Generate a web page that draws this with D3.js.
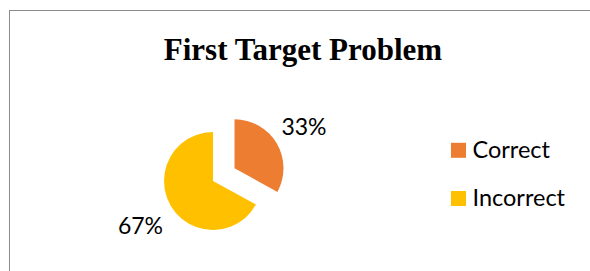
<!DOCTYPE html>
<html><head><meta charset="utf-8">
<script src="https://cdn.jsdelivr.net/npm/d3@7"></script>
<style>html,body{margin:0;padding:0;background:#fff;}svg{display:block;}</style>
</head><body>
<svg id="c" width="590" height="271"></svg>
<script>
const categories = ["Correct", "Incorrect"];
const values = [33, 67];
const labels = ["33%", "67%"];
const colors = ["#ED7D31", "#FFC000"];
const title = "First Target Problem";

const svg = d3.select("#c");
svg.append("rect").attr("x", 9.5).attr("y", 10.5).attr("width", 600).attr("height", 300)
  .attr("fill", "#fff").attr("stroke", "#8c8c8c").attr("stroke-width", 1);

svg.append("text").attr("x", 303).attr("y", 59.5).attr("text-anchor", "middle")
  .attr("font-family", "Liberation Serif, Times New Roman, serif").attr("font-weight", "bold")
  .attr("font-size", 31).attr("fill", "#000").text(title);

const cx = 213, cy = 181, r = 49, explode = [25, 0];
const pie = d3.pie().sort(null).value(d => d)(values);
const arc = d3.arc().innerRadius(0).outerRadius(r);
const g = svg.append("g").attr("transform", `translate(${cx},${cy})`);
pie.forEach((p, i) => {
  const mid = (p.startAngle + p.endAngle) / 2;
  const dx = Math.sin(mid) * explode[i], dy = -Math.cos(mid) * explode[i];
  g.append("path").attr("d", arc(p)).attr("fill", colors[i])
    .attr("transform", `translate(${dx},${dy})`);
});

const font = "Lato, Carlito, Calibri, sans-serif";
// data labels
const labelPos = [[304, 135], [140.5, 234.3]];
labels.forEach((t, i) => {
  svg.append("text").attr("x", labelPos[i][0]).attr("y", labelPos[i][1]).attr("text-anchor", "middle")
    .attr("font-family", font).attr("font-size", 23).attr("fill", "#000").text(t);
});

// legend
const leg = svg.append("g");
const ly = d3.scalePoint().domain(categories).range([150.3, 198.5]);
categories.forEach((c, i) => {
  leg.append("rect").attr("x", 451).attr("y", ly(c) - 7.5).attr("width", 15).attr("height", 15).attr("fill", colors[i]);
  leg.append("text").attr("x", 472.5).attr("y", ly(c) + 7.7).attr("font-family", font)
    .attr("font-size", 23.5).attr("fill", "#000").text(c);
});
</script>
</body></html>
